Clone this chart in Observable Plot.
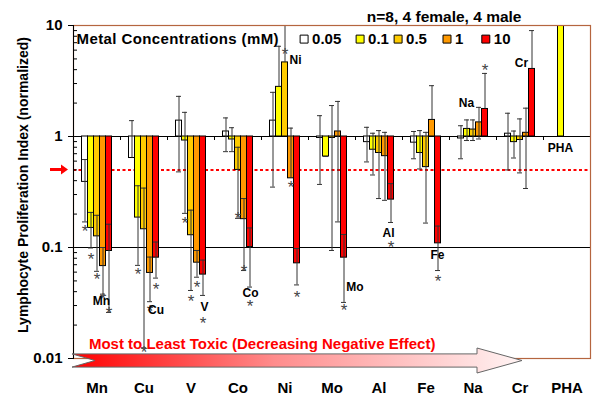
<!DOCTYPE html>
<html><head><meta charset="utf-8">
<script src="https://cdn.jsdelivr.net/npm/d3@7"></script>
<script src="https://cdn.jsdelivr.net/npm/@observablehq/plot@0.6"></script>
<style>
html,body{margin:0;padding:0;background:#fff;}
#chart{width:600px;height:410px;}
</style></head><body><div id="chart"></div>
<script>
// ---------- data ----------
const categories = ["Mn","Cu","V","Co","Ni","Mo","Al","Fe","Na","Cr","PHA"];
const concentrations = ["0.05","0.1","0.5","1","10"];
const colors = ["#ffffff","#ffff00","#ffcc00","#ff9900","#ff0000"];

// 0.05 mM
const mean005 = [0.39, 0.64, 1.39, 1.11, 1.39, 0.97, 0.89, 0.88, 0.96, 1.06, null];
const lo005   = [0.17, 0.64, 0.48, 0.73, 0.35, 0.37, 0.59, 0.63, 0.63, 0.50, null];
const hi005   = [0.62, 1.39, 2.30, 1.47, 2.50, 1.54, 1.21, 1.11, 1.25, 1.62, null];
const star005 = [0.152, null, null, null, null, null, null, null, null, null, null];
// 0.1 mM
const mean01 = [0.150, 0.186, 0.92, 0.94, 2.8, 0.66, 0.76, 0.71, 1.17, 0.89, 30];
const lo01   = [0.099, 0.069, 0.203, 0.73, 2.8, 0.66, 0.45, 0.51, 0.92, 0.64, null];
const hi01   = [0.207, 0.36, 1.65, 1.20, 6.5, 0.66, 1.07, 1.13, 1.41, 1.12, null];
const star01 = [0.0847, 0.062, 0.181, null, null, null, null, null, null, null, null];
// 0.5 mM
const mean05 = [0.126, 0.146, 0.129, 0.50, 4.65, 0.97, 0.71, 0.53, 1.155, 0.93, null];
const lo05   = [0.061, 0.0125, 0.041, 0.183, 4.65, 0.094, 0.276, 0.166, 0.92, 0.47, null];
const hi05   = [0.195, 0.343, 0.217, 0.80, 10, 1.9, 1.13, 1.09, 1.41, 1.44, null];
const star05 = [0.056, 0.0123, 0.0357, 0.202, 5.95, null, null, null, null, null, null];
// 1 mM
const mean1 = [0.068, 0.059, 0.073, 0.18, 0.42, 1.11, 0.665, 1.41, 1.34, 1.08, null];
const lo1   = [0.038, 0.0325, 0.054, 0.062, 0.42, 0.17, 0.266, 1.41, 0.95, 0.34, null];
const hi1   = [0.100, 0.082, 0.094, 0.276, 1.19, 2.07, 1.09, 2.87, 1.83, 1.80, null];
const star1 = [0.037, 0.029, 0.0477, 0.066, 0.377, null, null, null, null, null, null];
// 10 mM
const mean10 = [0.093, 0.081, 0.057, 0.101, 0.072, 0.081, 0.27, 0.109, 1.77, 4.06, null];
const lo10   = [0.026, 0.053, 0.037, 0.044, 0.046, 0.032, 0.168, 0.062, 1.77, 4.06, null];
const hi10   = [0.162, 0.112, 0.077, 0.150, 0.098, 0.131, 0.376, 0.156, 3.7, 9.0, null];
const star10 = [0.028, 0.046, 0.0228, 0.032, 0.0385, 0.0294, 0.109, 0.054, 4.27, null, null];

const yTicks = [0.01, 0.1, 1, 10];
const yTickLabels = ["0.01", "0.1", "1", "10"];
const refLevel = 0.5;
const baseline = 1;
const labelY = [0.0326, 0.027, 0.0288, 0.0385, 4.84, 0.0436, 0.134, 0.0847, 1.98, 4.55, 0.78];

const titleText = "n=8, 4 female, 4 male";
const legendTitle = "Metal Concentrations (mM)";
const arrowText = "Most to Least Toxic (Decreasing Negative Effect)";
const yLabel = "Lymphocyte Proliferation Index (normalized)";

// ---------- build ----------
const series = [
  {mean: mean005, lo: lo005, hi: hi005, star: star005},
  {mean: mean01, lo: lo01, hi: hi01, star: star01},
  {mean: mean05, lo: lo05, hi: hi05, star: star05},
  {mean: mean1, lo: lo1, hi: hi1, star: star1},
  {mean: mean10, lo: lo10, hi: hi10, star: star10}
];
const rowsBy = series.map((s, j) => categories.map((cat, i) => ({
  cat, conc: concentrations[j], mean: s.mean[i], lo: s.lo[i], hi: s.hi[i], star: s.star[i]
})).filter(d => d.mean != null));

const FONT = "'Liberation Sans', Arial, Helvetica, sans-serif";
const BAND = 517 / 11;
const BARW = 6;
const off = j => -12 + 6 * j;
const ERR = "#333";
const minorTicks = [0.01, 0.1, 1].flatMap(p => [2,3,4,5,6,7,8,9].map(k => k * p));

function toxicArrow(index, scales, values, dims) {
  const y = scales.y;
  const x0 = dims.marginLeft - 1;
  const yc = y(0.01) + 2.5;
  const g = d3.create("svg:g");
  const grad = g.append("defs").append("linearGradient")
    .attr("id", "toxgrad").attr("x1", "0").attr("x2", "1").attr("y1", "0").attr("y2", "0");
  grad.append("stop").attr("offset", "0").attr("stop-color", "#ff0000");
  grad.append("stop").attr("offset", "0.45").attr("stop-color", "#ff8c8c");
  grad.append("stop").attr("offset", "1").attr("stop-color", "#fff4f4");
  const shaft = 6.6, head = 12.5, headX = x0 + 405, tipX = x0 + 450, notch = 23;
  g.append("path")
    .attr("d", `M${x0},${yc - shaft}L${headX},${yc - shaft}L${headX},${yc - head}L${tipX},${yc}L${headX},${yc + head}L${headX},${yc + shaft}L${x0},${yc + shaft}L${x0 + notch},${yc}Z`)
    .attr("fill", "url(#toxgrad)").attr("stroke", "#666").attr("stroke-width", 1);
  return g.node();
}
function refArrow(index, scales, values, dims) {
  const yc = scales.y(refLevel);
  const xs = dims.marginLeft - 23, xe = dims.marginLeft - 5;
  const g = d3.create("svg:g");
  g.append("path")
    .attr("d", `M${xs},${yc - 1.5}L${xe - 7},${yc - 1.5}L${xe - 7},${yc - 5}L${xe},${yc}L${xe - 7},${yc + 5}L${xe - 7},${yc + 1.5}L${xs},${yc + 1.5}Z`)
    .attr("fill", "#ff0000");
  return g.node();
}

const labelDx = [4.5, 12, 13.5, 12.5, 10.5, 23, 9.5, 11.5, -6.5, 1.5, -6.5];
const legendSwatchX = [230.6, 286.6, 324.6, 373.5, 412.3];

const marks = [
  Plot.ruleY([1, 0.1], {stroke: "#000", strokeWidth: 1}),
  Plot.ruleY([refLevel], {stroke: "#ff0000", strokeWidth: 2, strokeDasharray: "3,2.5"}),
  Plot.ruleX(categories, {x: d => d, y1: baseline, y2: baseline, dx: -BAND / 2, insetBottom: -4, stroke: "#000"}),
  ...rowsBy.map((rows, j) => Plot.barY(rows, {
    x: "cat", y1: baseline, y2: "mean", fill: colors[j], stroke: "#000", strokeWidth: 1,
    insetLeft: (BAND - BARW) / 2, insetRight: (BAND - BARW) / 2, dx: off(j), clip: true
  })),
  ...rowsBy.map((rows, j) => Plot.ruleX(rows.filter(d => d.hi != null), {
    x: "cat", y1: "lo", y2: "hi", dx: off(j), stroke: ERR, strokeWidth: 1, clip: true
  })),
  ...rowsBy.map((rows, j) => Plot.tickY(rows.filter(d => d.hi != null), {
    x: "cat", y: "hi", dx: off(j), insetLeft: (BAND - 5) / 2, insetRight: (BAND - 5) / 2, stroke: ERR, clip: true
  })),
  ...rowsBy.map((rows, j) => Plot.tickY(rows.filter(d => d.lo != null && d.lo !== d.mean), {
    x: "cat", y: "lo", dx: off(j), insetLeft: (BAND - 5) / 2, insetRight: (BAND - 5) / 2, stroke: ERR
  })),
  ...rowsBy.map((rows, j) => Plot.text(rows.filter(d => d.star != null), {
    x: "cat", y: "star", text: () => "*", dx: off(j), dy: 4.5, fontSize: 17, fill: "#444", fontFamily: FONT
  })),
  ...categories.map((c, i) => Plot.text([c], {
    x: d => d, y: () => labelY[i], text: d => d, dx: labelDx[i], fontSize: 12, fontWeight: "bold", fill: "#000", fontFamily: FONT
  })),
  // frame
  Plot.frame({stroke: "#b5653f", strokeWidth: 1.2}),
  Plot.frame({anchor: "left", stroke: "#000", strokeWidth: 1}),
  // minor y ticks
  Plot.tickY(minorTicks, {y: d => d, insetRight: 517 - 4, stroke: "#000"}),
  Plot.axisY({ticks: yTicks, tickFormat: d => yTickLabels[yTicks.indexOf(d)], tickSize: 5, tickPadding: 6,
    fontSize: 15, fontWeight: "bold", label: null, stroke: "#000", fill: "#000"}),
  Plot.axisX({anchor: "bottom", tickSize: 0, tickPadding: 24, fontSize: 15, fontWeight: "bold", label: null, fill: "#000"}),
  toxicArrow,
  refArrow,
  Plot.text([arrowText], {frameAnchor: "bottom-left", text: d => d, textAnchor: "start", lineAnchor: "middle", dx: 15.4, dy: -14.4,
    fontSize: 15, fontWeight: "bold", fill: "#ff0000", fontFamily: FONT}),
  Plot.text([yLabel], {frameAnchor: "left", text: d => d, rotate: -90, textAnchor: "middle", lineAnchor: "middle", dx: -50, dy: -7,
    fontSize: 14, fontWeight: "bold", fill: "#000", fontFamily: FONT}),
  Plot.text([titleText], {frameAnchor: "top-right", text: d => d, textAnchor: "end", lineAnchor: "middle", dx: -69, dy: -8.5,
    fontSize: 15.5, fontWeight: "bold", fill: "#000", fontFamily: FONT}),
  Plot.text([legendTitle], {frameAnchor: "top-left", text: d => d, textAnchor: "start", lineAnchor: "middle", dx: 3, dy: 13.6,
    fontSize: 15, fontWeight: "bold", fill: "#000", fontFamily: FONT}),
  ...concentrations.map((c, j) => Plot.dot([c], {frameAnchor: "top-left", dx: legendSwatchX[j], dy: 13.6,
    symbol: "square", r: 4.5, fill: colors[j], stroke: "#000", strokeWidth: 1})),
  ...concentrations.map((c, j) => Plot.text([c], {frameAnchor: "top-left", text: d => d, textAnchor: "start", lineAnchor: "middle",
    dx: legendSwatchX[j] + 8, dy: 13.6, fontSize: 15, fontWeight: "bold", fill: "#000", fontFamily: FONT}))
];

const chart = Plot.plot({
  width: 600, height: 410,
  marginLeft: 73, marginRight: 10, marginTop: 25, marginBottom: 52,
  x: {domain: categories, padding: 0, axis: null},
  y: {type: "log", domain: [0.01, 10], axis: null},
  style: {fontFamily: FONT, background: "#fff", overflow: "visible", color: "#000"},
  marks
});
d3.select(chart).selectAll("text").filter(function() { return this.textContent === legendTitle; })
  .attr("letter-spacing", "0.4px");
document.getElementById("chart").appendChild(chart);
</script></body></html>
